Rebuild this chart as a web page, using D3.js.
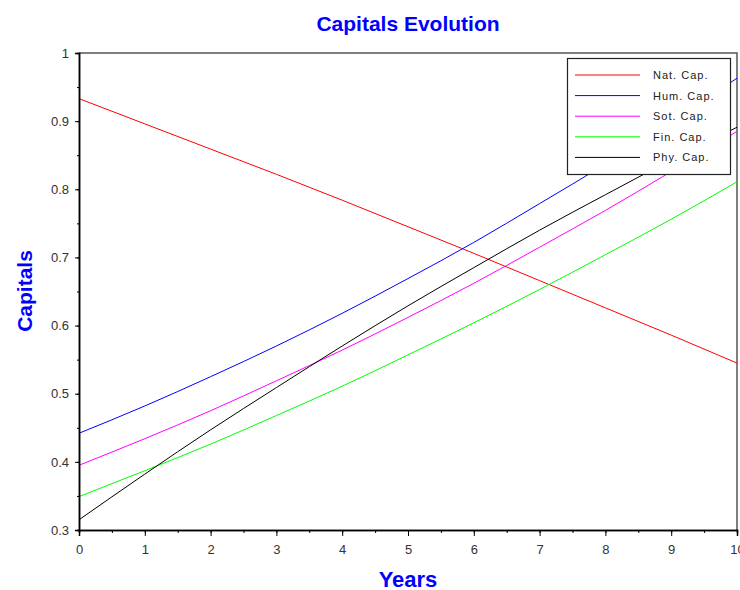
<!DOCTYPE html>
<html>
<head>
<meta charset="utf-8">
<script src="https://cdn.jsdelivr.net/npm/d3@7"></script>
<style>
  body { margin: 0; background: #fff; }
  text { font-family: "Liberation Sans", Arial, sans-serif; }
</style>
</head>
<body>
<script>
var w = 740;
var h = 590;

// data
var years = [0, 1, 2, 3, 4, 5, 6, 7, 8, 9, 10];
var natCap = [0.933, 0.896, 0.859, 0.822, 0.784, 0.745, 0.706, 0.666, 0.626, 0.586, 0.545];
var humCap = [0.442, 0.482, 0.525, 0.570, 0.618, 0.669, 0.722, 0.779, 0.837, 0.899, 0.963];
var sotCap = [0.395, 0.434, 0.475, 0.519, 0.564, 0.612, 0.662, 0.715, 0.769, 0.826, 0.885];
var finCap = [0.349, 0.387, 0.426, 0.468, 0.511, 0.557, 0.604, 0.653, 0.704, 0.756, 0.811];
var phyCap = [0.315, 0.382, 0.447, 0.509, 0.570, 0.629, 0.685, 0.740, 0.792, 0.843, 0.891];

var seriesNames = ["Nat. Cap.", "Hum. Cap.", "Sot. Cap.", "Fin. Cap.", "Phy. Cap."];
var seriesValues = [natCap, humCap, sotCap, finCap, phyCap];
var seriesColors = ["#ff0000", "#0000ff", "#ff00ff", "#00ff00", "#000000"];

var xTicks = [0, 1, 2, 3, 4, 5, 6, 7, 8, 9, 10];
var yTicks = [0.3, 0.4, 0.5, 0.6, 0.7, 0.8, 0.9, 1];

var plotLeft = 79, plotRight = 737, plotTop = 53, plotBottom = 530;

var x = d3.scaleLinear().domain([0, 10]).range([plotLeft, plotRight]);
var y = d3.scaleLinear().domain([0.3, 1]).range([plotBottom, plotTop]);

var svg = d3.select("body")
    .append("svg")
    .attr("width", w)
    .attr("height", h);

svg.append("rect")
    .attr("width", w)
    .attr("height", h)
    .attr("fill", "#ffffff");

// frame top and right
svg.append("path")
    .attr("d", "M" + plotLeft + "," + plotTop + "H" + plotRight + "V" + plotBottom)
    .attr("fill", "none")
    .attr("stroke", "#555555")
    .attr("stroke-width", 1.5);

// curves
var line = d3.line()
    .x(function(d, i) { return x(years[i]); })
    .y(function(d) { return y(d); })
    .curve(d3.curveMonotoneX);

svg.selectAll(".series")
    .data(seriesValues)
    .enter()
    .append("path")
    .attr("class", "series")
    .attr("d", line)
    .attr("fill", "none")
    .attr("stroke", function(d, i) { return seriesColors[i]; })
    .attr("stroke-width", 1);

// x axis
var xAxis = svg.append("g")
    .attr("transform", "translate(0," + plotBottom + ")")
    .call(d3.axisBottom(x).tickValues(d3.range(0, 10.01, 0.5)).tickSize(3).tickFormat(""));
xAxis.append("g")
    .call(d3.axisBottom(x).tickValues(xTicks).tickSize(6).tickPadding(9).tickFormat(d3.format("d")));
xAxis.selectAll("path.domain").attr("stroke", "#000").attr("stroke-width", 1.5);
xAxis.selectAll("line").attr("stroke", "#000");
xAxis.selectAll("text")
    .attr("font-size", 13)
    .attr("fill", "#333")
    .attr("font-family", "Liberation Sans, Arial, sans-serif");

// y axis
var yAxis = svg.append("g")
    .attr("transform", "translate(" + plotLeft + ",0)")
    .call(d3.axisLeft(y).tickValues(d3.range(0.3, 1.001, 0.05)).tickSize(2).tickFormat(""));
yAxis.append("g")
    .call(d3.axisLeft(y).tickValues(yTicks).tickSize(4).tickPadding(6).tickFormat(d3.format("")));
yAxis.selectAll("path.domain").attr("stroke", "#000").attr("stroke-width", 1.5);
yAxis.selectAll("line").attr("stroke", "#000");
yAxis.selectAll("text")
    .attr("font-size", 13)
    .attr("fill", "#333")
    .attr("font-family", "Liberation Sans, Arial, sans-serif");

// titles
svg.append("text")
    .text("Capitals Evolution")
    .attr("x", 408)
    .attr("y", 31)
    .attr("text-anchor", "middle")
    .attr("font-size", 21)
    .attr("font-weight", "bold")
    .attr("fill", "#0000ff");

svg.append("text")
    .text("Years")
    .attr("x", 408)
    .attr("y", 587)
    .attr("text-anchor", "middle")
    .attr("font-size", 22)
    .attr("font-weight", "bold")
    .attr("fill", "#0000ff");

svg.append("text")
    .text("Capitals")
    .attr("transform", "translate(32,291) rotate(-90)")
    .attr("text-anchor", "middle")
    .attr("font-size", 21)
    .attr("font-weight", "bold")
    .attr("fill", "#0000ff");

// legend
var legend = svg.append("g");
legend.append("rect")
    .attr("x", 567.5)
    .attr("y", 58.5)
    .attr("width", 163)
    .attr("height", 116)
    .attr("fill", "#ffffff")
    .attr("stroke", "#222")
    .attr("stroke-width", 1.2);

var rows = legend.selectAll(".row")
    .data(seriesNames)
    .enter()
    .append("g")
    .attr("class", "row")
    .attr("transform", function(d, i) { return "translate(0," + (75 + i * 20.6) + ")"; });

rows.append("line")
    .attr("x1", 575)
    .attr("x2", 640)
    .attr("y1", 0)
    .attr("y2", 0)
    .attr("stroke", function(d, i) { return seriesColors[i]; })
    .attr("stroke-width", 1);

rows.append("text")
    .text(function(d) { return d; })
    .attr("x", 653)
    .attr("y", 4)
    .attr("font-size", 11)
    .attr("letter-spacing", 1)
    .attr("fill", "#222");
</script>
</body>
</html>
